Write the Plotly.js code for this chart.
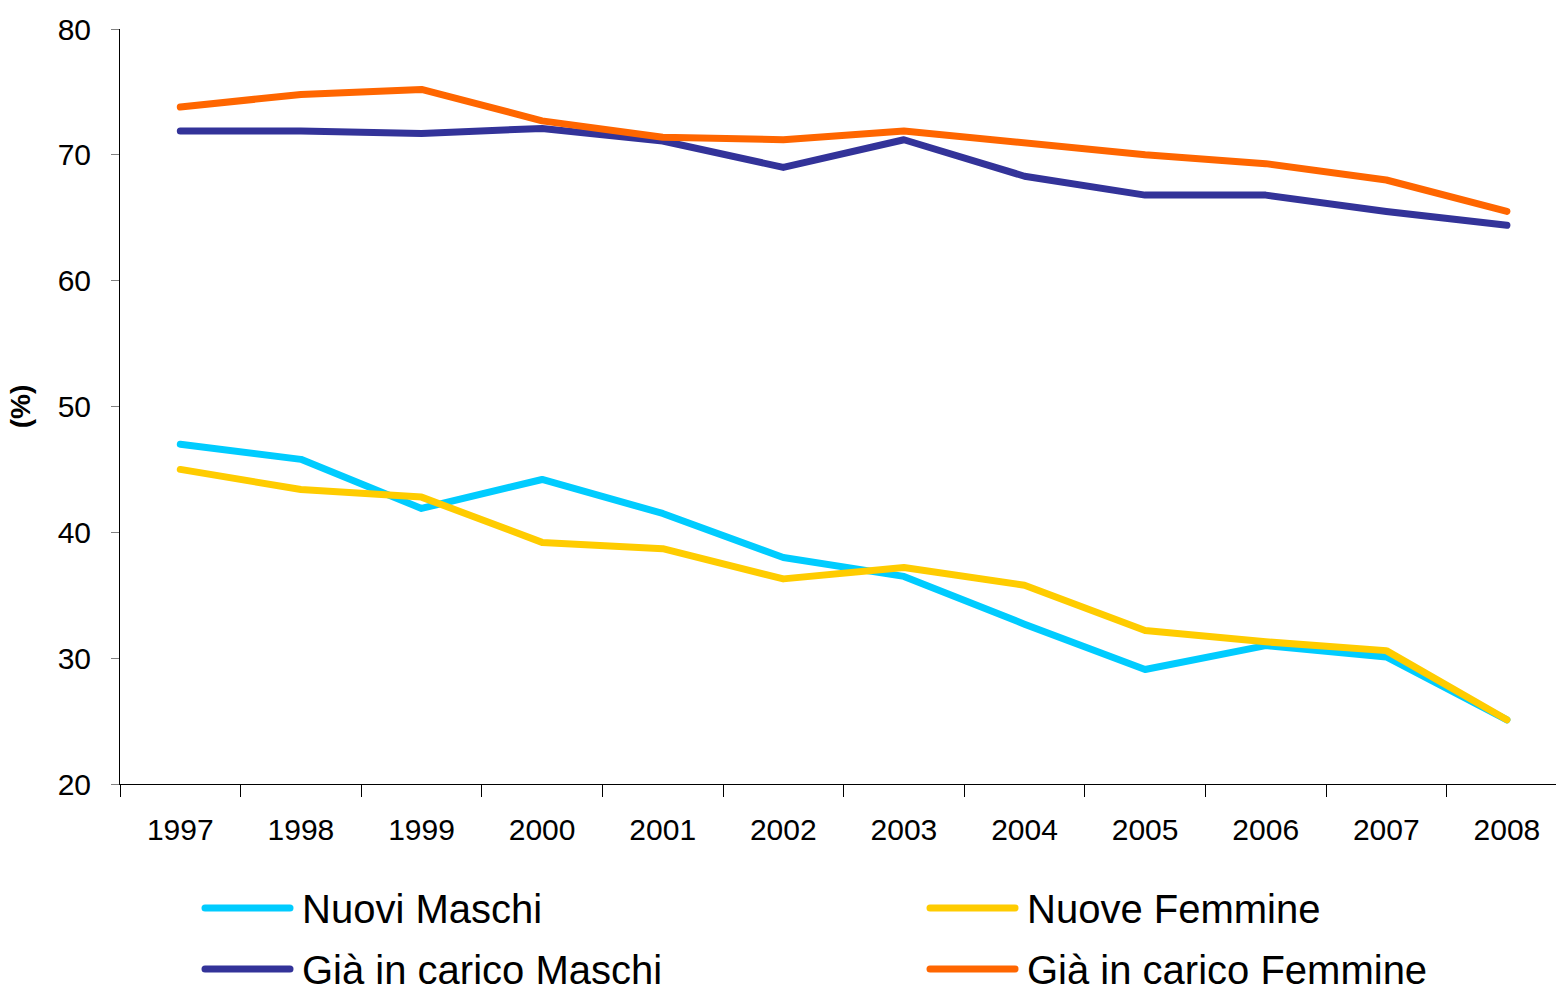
<!DOCTYPE html>
<html>
<head>
<meta charset="utf-8">
<script src="https://cdn.plot.ly/plotly-3.0.1.min.js"></script>
<style>
html,body{margin:0;padding:0;background:#fff;}
#chart{width:1556px;height:991px;}
#chart .scatterlayer path.js-line{stroke-linecap:round !important;stroke-linejoin:round !important;}
#chart .shapelayer path{stroke-linecap:round !important;}
</style>
</head>
<body>
<div id="chart"></div>
<script>
const years = ['1997','1998','1999','2000','2001','2002','2003','2004','2005','2006','2007','2008'];
const seriesNames = ['Nuovi Maschi','Nuove Femmine','Già in carico Maschi','Già in carico Femmine'];
const nuoviMaschi = [47.0,45.8,41.9,44.2,41.5,38.0,36.5,32.7,29.1,31.0,30.1,25.1];
const nuoveFemmine = [45.0,43.4,42.8,39.2,38.7,36.3,37.2,35.8,32.2,31.3,30.6,25.1];
const giaMaschi = [71.9,71.9,71.7,72.1,71.1,69.0,71.2,68.3,66.8,66.8,65.5,64.4];
const giaFemmine = [73.8,74.8,75.2,72.7,71.4,71.2,71.9,70.9,70.0,69.3,68.0,65.5];
const colors = ['#00CCFF','#FFCC00','#333399','#FF6600'];
const yTicks = [20,30,40,50,60,70,80];

const values = [nuoviMaschi, nuoveFemmine, giaMaschi, giaFemmine];
const font = 'Liberation Sans, Arial, sans-serif';

const traces = values.map((v,i)=>({
  x: years, y: v, name: seriesNames[i], type:'scatter', mode:'lines',
  line:{color:colors[i], width:7, shape:'linear'}, showlegend:false, hoverinfo:'x+y+name'
}));

// pixel -> paper helpers for custom legend
const L=120, T=29, W=1436, H=755;
const px = p => (p-L)/W;
const py = p => (T+H-p)/H;
const legendPos = [[205,908],[930,908],[205,969],[930,969]];
const shapes = [], annotations = [];
legendPos.forEach((p,i)=>{
  shapes.push({type:'line', xref:'paper', yref:'paper', x0:px(p[0]), x1:px(p[0]+85), y0:py(p[1]), y1:py(p[1]),
    line:{color:colors[i], width:7}, layer:'above'});
  annotations.push({xref:'paper', yref:'paper', x:px(p[0]+95), y:py(p[1]+1), xanchor:'left', yanchor:'middle',
    text:seriesNames[i], showarrow:false, font:{family:font, size:40, color:'#000'}});
});

const layout = {
  width:1556, height:991,
  margin:{l:L, r:0, t:T, b:991-T-H, pad:0},
  paper_bgcolor:'#fff', plot_bgcolor:'#fff',
  font:{family:font, size:30, color:'#000'},
  showlegend:false,
  xaxis:{
    type:'category', range:[-0.5, 11.407], tickson:'boundaries',
    ticks:'outside', ticklen:12, tickcolor:'#000', tickwidth:1,
    showline:true, linecolor:'#000', linewidth:1, showgrid:false, zeroline:false,
    tickfont:{family:font, size:30, color:'#000'}, ticklabelstandoff:19, fixedrange:true
  },
  yaxis:{
    range:[20,80], tickvals:yTicks, ticktext:yTicks.map(String),
    ticks:'outside', ticklen:8, tickcolor:'#808080', tickwidth:1,
    showline:true, linecolor:'#000', linewidth:1, showgrid:false, zeroline:false,
    tickfont:{family:font, size:30, color:'#000'}, ticklabelstandoff:14,
    title:{text:'<b>(%)</b>', font:{family:font, size:28, color:'#000'}, standoff:18}, fixedrange:true
  },
  shapes:shapes, annotations:annotations
};

Plotly.newPlot('chart', traces, layout, {displayModeBar:false, staticPlot:true});
</script>
</body>
</html>
